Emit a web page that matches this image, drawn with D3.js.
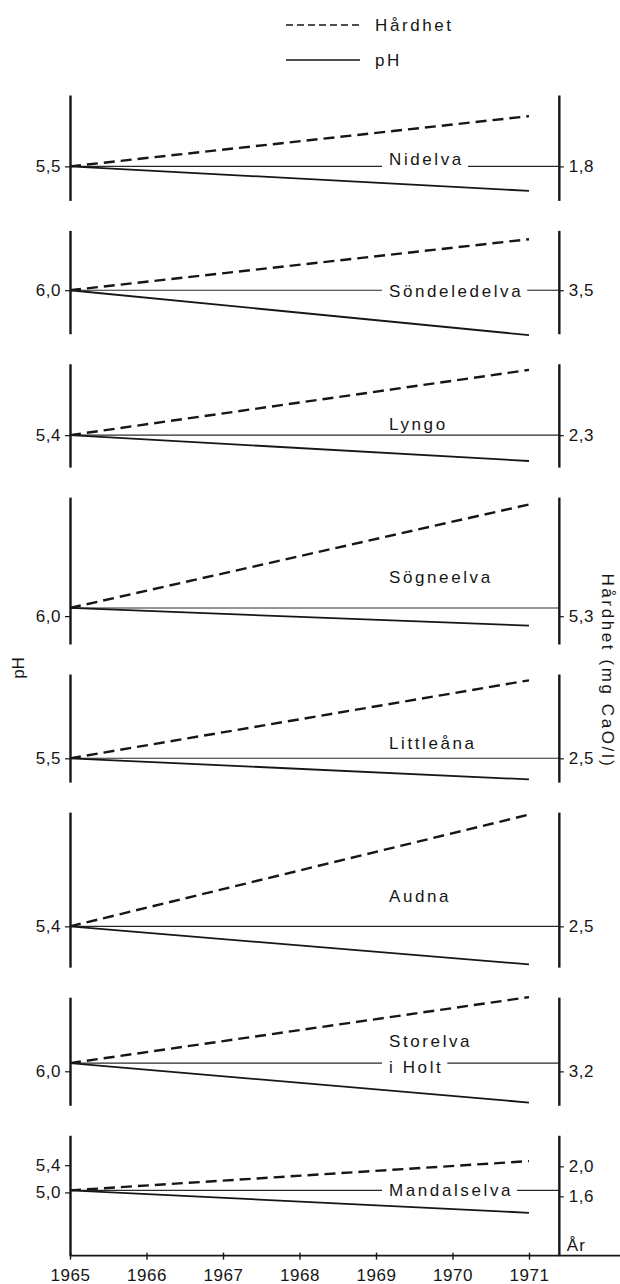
<!DOCTYPE html>
<html><head><meta charset="utf-8">
<script src="https://cdn.jsdelivr.net/npm/d3@7"></script>
<style>body{margin:0;background:#fff}</style>
</head><body>
<svg id="c" width="620" height="1284"></svg>
<script>
// ---- data ----
const rivers   = ["Nidelva","Söndeledelva","Lyngo","Sögneelva","Littleåna","Audna","Storelva i Holt","Mandalselva"];
const ph1965   = [5.50, 6.00, 5.40, 6.12, 5.50, 5.40, 6.12, 5.03];
const ph1971   = [5.14, 5.34, 5.02, 5.86, 5.19, 4.84, 5.54, 4.70];
const hard1965 = [1.80, 3.50, 2.30, 5.41, 2.50, 2.50, 3.31, 1.68];
const hard1971 = [2.47, 4.18, 3.17, 6.79, 3.54, 3.99, 4.19, 2.07];
const phTicks   = [[5.5],[6.0],[5.4],[6.0],[5.5],[5.4],[6.0],[5.4,5.0]];
const hardTicks = [[1.8],[3.5],[2.3],[5.3],[2.5],[2.5],[3.2],[2.0,1.6]];
const phAxisMax = [6.55, 6.88, 6.45, 7.75, 6.74, 7.08, 7.09, 5.84];
const phAxisMin = [5.00, 5.36, 4.93, 5.59, 5.15, 4.80, 5.50, 4.07];
const yearTicks = [1965,1966,1967,1968,1969,1970,1971];
const legendLabels = ["Hårdhet","pH"];
const yLabelLeft = "pH", yLabelRight = "Hårdhet (mg CaO/l)", xLabel = "År";

// ---- layout ----
const W = 620, PX_PH = 68, PX_H = 75, TOP = 95, GAP = 30;
const labelX = 389;
const labelLines = rivers.map(r => r === "Storelva i Holt" ? ["Storelva","i Holt"] : [r]);
const labelDy = [[-1],[6.5],[-5],[-25],[-9],[-24],[-16,10],[5.5]];
const breakLine = [0,0,null,null,null,null,1,0]; // index of label line that cuts the baseline
const FONT = "'Liberation Sans', Arial, sans-serif";
const INK = "#161616";

const svg = d3.select("#c");
const x = d3.scaleLinear().domain([1965,1971]).range([70,529]);
const xRight = x(1971.39);
const fmt = v => d3.format(".1f")(v).replace(".", ",");

let cur = TOP, lastBottom = 0;
rivers.forEach((r,i) => {
  const top = cur, bottom = top + (phAxisMax[i]-phAxisMin[i])*PX_PH;
  cur = bottom + GAP; lastBottom = bottom;
  const yPH = d3.scaleLinear().domain([phAxisMin[i], phAxisMax[i]]).range([bottom, top]);
  const baseY = yPH(ph1965[i]);
  const hTop = hard1965[i] + (baseY-top)/PX_H, hBot = hard1965[i] - (bottom-baseY)/PX_H;
  const yH = d3.scaleLinear().domain([hBot, hTop]).range([bottom, top]);
  const g = svg.append("g");

  // labels
  const lens = [];
  labelLines[i].forEach((t,k) => {
    const tx = g.append("text").attr("x", labelX).attr("y", baseY + labelDy[i][k])
      .attr("font-family", FONT).attr("font-size", 17).attr("letter-spacing", 2.6)
      .attr("fill", INK).text(t);
    lens.push(tx.node().getComputedTextLength());
  });

  // baseline (1965 level)
  const bl = d3.line();
  const segs = [];
  if (breakLine[i] !== null) {
    segs.push([[x(1965), baseY],[labelX-7, baseY]]);
    segs.push([[labelX + lens[breakLine[i]] + 4, baseY],[xRight, baseY]]);
  } else segs.push([[x(1965), baseY],[xRight, baseY]]);
  segs.forEach(s => g.append("path").attr("d", bl(s)).attr("stroke", "#2a2a2a")
    .attr("stroke-width", 1.1).attr("fill", "none"));

  // trend lines
  const ln = d3.line().x(d => x(d[0])).y(d => d[1]);
  g.append("path").attr("d", ln([[1965, yH(hard1965[i])],[1971, yH(hard1971[i])]]))
    .attr("stroke", INK).attr("stroke-width", 2.4).attr("stroke-dasharray", "11,6").attr("fill","none");
  g.append("path").attr("d", ln([[1965, yPH(ph1965[i])],[1971, yPH(ph1971[i])]]))
    .attr("stroke", INK).attr("stroke-width", 1.8).attr("fill","none");

  // axes
  const la = g.append("g").attr("transform", `translate(${x(1965)},0)`)
    .call(d3.axisLeft(yPH).tickValues(phTicks[i]).tickFormat(fmt).tickSize(5).tickSizeOuter(0).tickPadding(4));
  const ra = g.append("g").attr("transform", `translate(${xRight},0)`)
    .call(d3.axisRight(yH).tickValues(hardTicks[i]).tickFormat(fmt).tickSize(5).tickSizeOuter(0).tickPadding(5));
  [la, ra].forEach(a => {
    a.select(".domain").attr("stroke", INK).attr("stroke-width", 2.4);
    a.selectAll(".tick line").attr("stroke", INK).attr("stroke-width", 1.2);
    a.selectAll(".tick text").attr("font-family", FONT).attr("font-size", 17)
      .attr("letter-spacing", 0.5).attr("fill", INK);
  });
});

// x axis
const xa = svg.append("g").attr("transform", `translate(0,${lastBottom})`);
xa.append("path").attr("d", d3.line()([[x(1965), 0],[W, 0]])).attr("stroke", INK).attr("stroke-width", 1.6);
xa.call(d3.axisBottom(x).tickValues(yearTicks).tickFormat(d3.format("d")).tickSize(4).tickPadding(9));
xa.select(".domain").remove();
xa.selectAll(".tick line").attr("stroke", INK).attr("stroke-width", 1.4).attr("y1", -3);
xa.selectAll(".tick text").attr("font-family", FONT).attr("font-size", 17).attr("letter-spacing", 0.6).attr("fill", INK);
svg.append("text").attr("x", xRight + 8).attr("y", lastBottom - 5)
  .attr("font-family", FONT).attr("font-size", 17).attr("letter-spacing", 1).attr("fill", INK).text(xLabel);

// axis titles
svg.append("text").attr("transform", "translate(24,668) rotate(-90)").attr("text-anchor","middle")
  .attr("font-family", FONT).attr("font-size", 17).attr("fill", INK).text(yLabelLeft);
svg.append("text").attr("transform", "translate(602,671) rotate(90)").attr("text-anchor","middle")
  .attr("font-family", FONT).attr("font-size", 17).attr("letter-spacing", 2.6).attr("fill", INK).text(yLabelRight);

// legend
const lg = svg.append("g");
const legY = [25, 60], legDash = ["7,4", null];
legendLabels.forEach((t,k) => {
  lg.append("path").attr("d", d3.line()([[286, legY[k]],[360, legY[k]]]))
    .attr("stroke", INK).attr("stroke-width", 1.6).attr("stroke-dasharray", legDash[k]);
  lg.append("text").attr("x", 375).attr("y", legY[k] + 6).attr("font-family", FONT)
    .attr("font-size", 17).attr("letter-spacing", 2.6).attr("fill", INK).text(t);
});
</script>
</body></html>
